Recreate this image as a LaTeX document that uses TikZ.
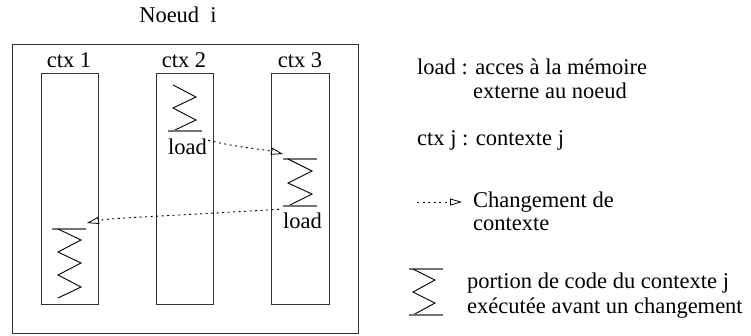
\documentclass[tikz,border=0pt]{standalone}
\usepackage{fontspec}
\setmainfont{Liberation Serif}
\usetikzlibrary{arrows.meta}
\begin{document}
\begin{tikzpicture}[x=1pt,y=-1pt,
  every node/.style={inner sep=0pt,font=\fontsize{22.5}{27}\selectfont},
  frame/.style={draw=black!80,line width=1pt},
  bar/.style={draw=black!55,line width=1.3pt},
  zig/.style={draw=black,line width=0.9pt},
  switch/.style={draw=black,line width=0.9pt,dash pattern=on 2pt off 3.5pt,
    -{Triangle[open,length=12pt,width=7pt,line width=0.8pt]}},
  lbl/.style={anchor=base west}]
\useasboundingbox (0,0) rectangle (751,335);

% node and its three contexts
\node[anchor=base] (title) at (178,22) {Noeud~~i};
\draw[frame] (12,44) rectangle (358,333);
\draw[frame] (41,73) rectangle (98,304);
\draw[frame] (156,73) rectangle (213,304);
\draw[frame] (271,73) rectangle (329,304);
\node[anchor=base] (c1) at (69,67) {ctx 1};
\node[anchor=base] (c2) at (184,67) {ctx 2};
\node[anchor=base] (c3) at (300,67) {ctx 3};

% code portion in ctx 2
\draw[zig] (173,85) -- (196,97) -- (173,108) -- (196,120) -- (173,131);
\draw[bar] (168,131) -- (202,131);
\node[lbl] (ld2) at (168,154) {load};

% code portion in ctx 3
\draw[bar] (283,159) -- (317,159);
\draw[zig] (288,159) -- (312,171) -- (288,183) -- (312,194) -- (288,206);
\draw[bar] (283,206) -- (317,206);
\node[lbl] (ld3) at (283,228) {load};

% code portion in ctx 1
\draw[bar] (52,229) -- (86,229);
\draw[zig] (58,229) -- (81,240) -- (58,252) -- (81,263) -- (58,275) -- (81,287) -- (58,298);

% context switches
\coordinate (t3) at (283,154);
\coordinate (t1) at (87,223);
\draw[switch] (ld2.east) ++(1,-6) coordinate (s2)
  .. controls (240,148) and (262,149) .. (t3);
\draw[switch] (ld3.west) ++(-4,-11) coordinate (s3)
  .. controls (150,217) and (110,218) .. (t1);

% legend
\node[lbl] (k1) at (417,74) {load : acces à la mémoire};
\node[lbl] (k1b) at (473,98) {externe au noeud};
\node[lbl] (k2) at (417,145) {ctx j : contexte j};
\coordinate (ka) at (417,202);
\coordinate (kb) at (462,202);
\draw[switch] (ka) -- (kb);
\node[lbl] (k3) at (473,207) {Changement de};
\node[lbl] (k3b) at (473,230) {contexte};
\draw[bar] (409,269) -- (443,269);
\draw[zig] (413,269) -- (435,280) -- (413,292) -- (435,303) -- (413,315);
\draw[bar] (409,315) -- (443,315);
\node[lbl] (k4) at (467,288) {portion de code du contexte j};
\node[lbl] (k4b) at (467,313) {exécutée avant un changement};
\end{tikzpicture}
\end{document}
